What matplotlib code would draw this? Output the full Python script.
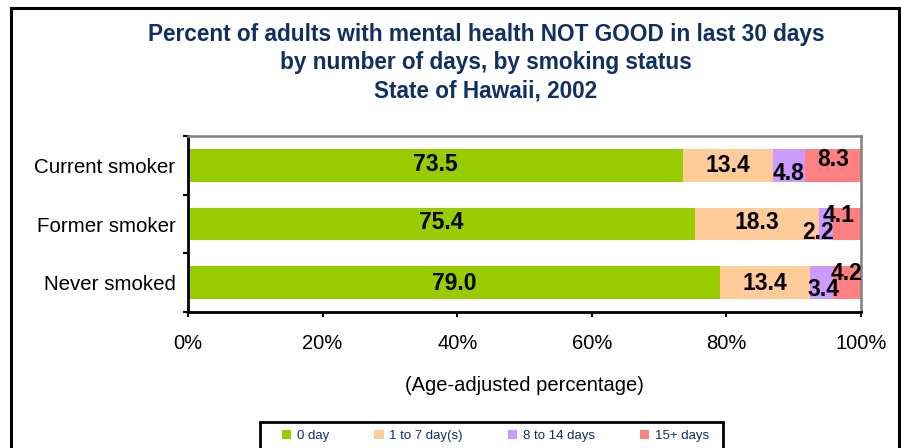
import matplotlib
matplotlib.use("Agg")
import matplotlib.pyplot as plt
from matplotlib.patches import Rectangle
import numpy as np

plt.rcParams['font.family'] = ['Liberation Sans', 'DejaVu Sans']

# Smoking status groups (top to bottom) and share of adults by number of
# days with mental health not good
groups = ["Current smoker", "Former smoker", "Never smoked"]
series_names = ["0 day", "1 to 7 day(s)", "8 to 14 days", "15+ days"]
days_0 = [73.5, 75.4, 79.0]
days_1_7 = [13.4, 18.3, 13.4]
days_8_14 = [4.8, 2.2, 3.4]
days_15_plus = [8.3, 4.1, 4.2]
x_ticks = [0, 20, 40, 60, 80, 100]

series = [days_0, days_1_7, days_8_14, days_15_plus]
colors = ["#99CC00", "#FFCC99", "#CC99FF", "#FF8080"]
navy = "#102F63"

# label nudges in pixels (dx, dy; positive dy = up) so the small segments'
# labels don't collide
label_nudge = [
    [(0, 1), (0, 0), (0, -8), (0, 6)],
    [(0, 2), (0, 2), (-8, -8), (-9, 9)],
    [(0, -1), (0, -1), (2, -7), (0, 9)],
]

W, H = 901, 448
fig = plt.figure(figsize=(W / 100, H / 100), dpi=100)
fig.patch.set_facecolor("white")

# outer chart frame
fig.patches.append(Rectangle((11 / W, -0.1), (899 - 11) / W, 1.1 - 8 / H,
                             transform=fig.transFigure, fill=False,
                             edgecolor="black", linewidth=2.2, clip_on=False))

ax = fig.add_axes([188 / W, 1 - 312 / H, 673 / W, 176 / H])

y = np.arange(len(groups))
left = np.zeros(len(groups))
bars = []
for k, (vals, col, name) in enumerate(zip(series, colors, series_names)):
    b = ax.barh(y, vals, left=left, height=0.56, color=col, label=name,
                edgecolor="none")
    bars.append(b)
    for i, v in enumerate(vals):
        dx, dy = label_nudge[i][k]
        ax.annotate(f"{v:.1f}", (left[i] + v / 2, y[i]),
                    xytext=(dx * 0.72, dy * 0.72), textcoords="offset points",
                    ha="center", va="center", fontsize=16.5,
                    fontweight="bold", color="black")
    left = left + np.array(vals)

ax.set_xlim(0, 100)
ax.set_ylim(len(groups) - 0.5, -0.5)
ax.set_xticks(x_ticks)
ax.set_xticklabels([f"{t}%" for t in x_ticks], fontsize=14.5)
ax.set_yticks(y)
ax.set_yticklabels(groups, fontsize=14.8)
ax.tick_params(axis="y", which="major", length=0, pad=9)
ax.set_yticks(np.arange(-0.5, len(groups)), minor=True)
ax.tick_params(axis="y", which="minor", length=3.5, width=1.5,
               direction="out")
ax.tick_params(axis="x", length=3.5, width=1.5, direction="out", pad=12)
ax.set_xlabel("(Age-adjusted percentage)", fontsize=14.5, labelpad=17)

for s in ["left", "bottom"]:
    ax.spines[s].set_linewidth(2)
    ax.spines[s].set_color("black")
for s in ["top", "right"]:
    ax.spines[s].set_linewidth(1.8)
    ax.spines[s].set_color("#808080")

title_lines = ["Percent of adults with mental health NOT GOOD in last 30 days",
               "by number of days, by smoking status",
               "State of Hawaii, 2002"]
for j, line in enumerate(title_lines):
    fig.text(486 / W, 1 - (35 + 28 * j) / H, line, ha="center", va="center",
             fontsize=16.3, fontweight="bold", color=navy)

# legend box
fig.patches.append(Rectangle((260 / W, -0.1), (723 - 260) / W, 0.1 + 1 - 422 / H,
                             transform=fig.transFigure, fill=False,
                             edgecolor="black", linewidth=2, clip_on=False))
leg = fig.legend(handles=bars, labels=series_names, ncol=4,
                 loc="center left", bbox_to_anchor=(282 / W, 1 - 436 / H),
                 frameon=False, fontsize=9.5,
                 handlelength=0.7, handleheight=0.7, handletextpad=0.45,
                 columnspacing=3.4, borderpad=0, borderaxespad=0)
for t in leg.get_texts():
    t.set_color(navy)

fig.savefig("out.png", dpi=100, facecolor="white")
